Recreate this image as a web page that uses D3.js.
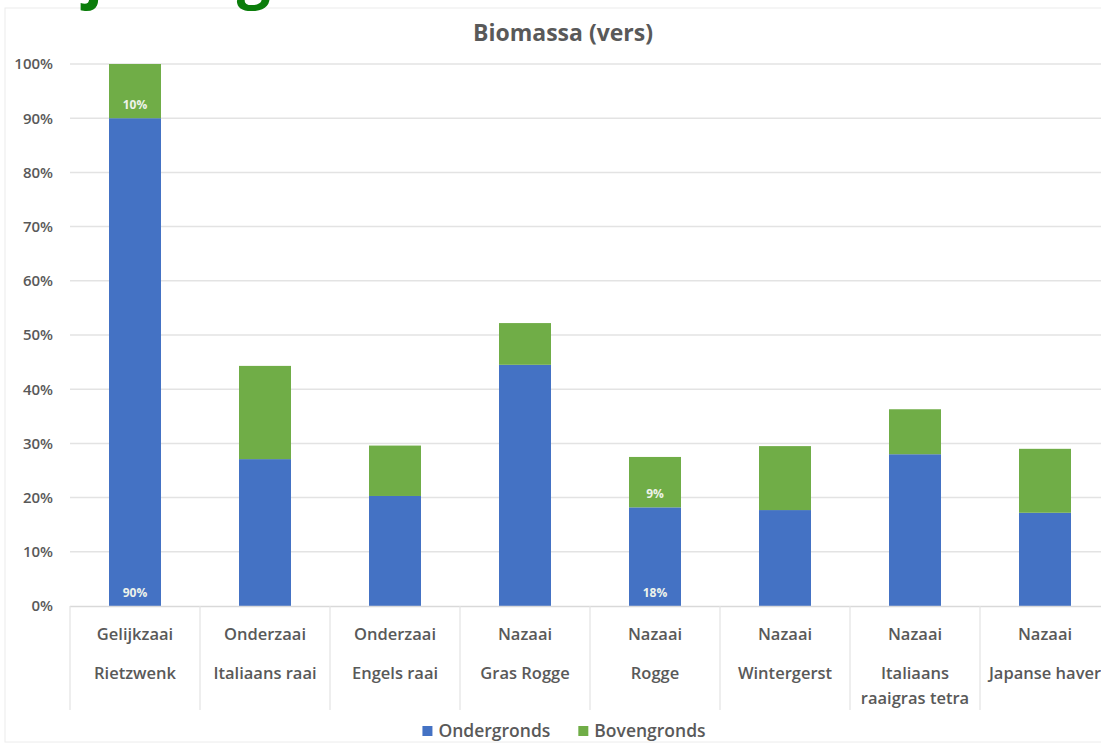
<!DOCTYPE html>
<html>
<head>
<meta charset="utf-8">
<script src="https://cdn.jsdelivr.net/npm/d3@7"></script>
<style>
  body { margin: 0; background: #fff; }
  text { font-family: "Open Sans", "DejaVu Sans", sans-serif; }
</style>
</head>
<body>
<div id="chart"></div>
<script>
const categories = [
  ['Gelijkzaai', 'Rietzwenk'],
  ['Onderzaai', 'Italiaans raai'],
  ['Onderzaai', 'Engels raai'],
  ['Nazaai', 'Gras Rogge'],
  ['Nazaai', 'Rogge'],
  ['Nazaai', 'Wintergerst'],
  ['Nazaai', 'Italiaans', 'raaigras tetra'],
  ['Nazaai', 'Japanse haver']
];
const seriesNames = ['Ondergronds', 'Bovengronds'];
const ondergronds = [90, 27.1, 20.3, 44.5, 18.2, 17.7, 28.0, 17.2];
const bovengronds = [10, 17.2, 9.3, 7.7, 9.3, 11.8, 8.3, 11.8];
const ondergrondsLabels = ['90%', '', '', '', '18%', '', '', ''];
const bovengrondsLabels = ['10%', '', '', '', '9%', '', '', ''];
const yTicks = [0, 10, 20, 30, 40, 50, 60, 70, 80, 90, 100];

const width = 1101;
const height = 746;
const colors = ['#4472c4', '#70ad47'];
const textGrey = '#595959';

const rows = categories.map((c, i) => ({
  i: i,
  Ondergronds: ondergronds[i],
  Bovengronds: bovengronds[i]
}));
const labels = [ondergrondsLabels, bovengrondsLabels];

const svg = d3.select('#chart')
              .append('svg')
              .attr('width', width)
              .attr('height', height);

// chart frame
svg.append('rect')
   .attr('x', 5).attr('y', 8)
   .attr('width', width + 10).attr('height', height - 12)
   .attr('fill', 'none')
   .attr('stroke', '#ececec');

// heading of the page, cut off by the top edge
svg.append('text')
   .text('Bijmengen')
   .attr('x', 26)
   .attr('y', -4)
   .attr('font-size', 60)
   .attr('font-weight', 'bold')
   .attr('fill', '#0b7d0b');

const xScale = d3.scaleBand()
                 .domain(categories.map((c, i) => i))
                 .range([70, 1110])
                 .padding(0);

const yScale = d3.scaleLinear()
                 .domain([0, 100])
                 .range([606, 64]);

const barWidth = xScale.bandwidth() * 0.4;

//gridlines
svg.append('g')
   .selectAll('line')
   .data(yTicks.filter(d => d > 0))
   .enter()
   .append('line')
   .attr('x1', 70)
   .attr('x2', width)
   .attr('y1', d => yScale(d))
   .attr('y2', d => yScale(d))
   .attr('stroke', '#e3e3e3')
   .attr('stroke-width', 1.5);

//y axis
const yAxis = d3.axisLeft(yScale)
                .tickValues(yTicks)
                .tickFormat(d => d + '%')
                .tickSize(0)
                .tickPadding(0);

svg.append('g')
   .attr('transform', 'translate(53, 0)')
   .call(yAxis)
   .call(g => g.select('.domain').remove())
   .call(g => g.selectAll('text')
               .attr('font-size', 15)
               .attr('font-weight', 600)
               .attr('fill', textGrey)
               .attr('font-family', '"Open Sans", sans-serif'));

//bars
const stacked = d3.stack().keys(seriesNames)(rows);

const layers = svg.selectAll('.layer')
                  .data(stacked)
                  .enter()
                  .append('g')
                  .attr('class', 'layer')
                  .attr('fill', (d, i) => colors[i]);

layers.selectAll('rect')
      .data(d => d)
      .enter()
      .append('rect')
      .attr('x', d => xScale(d.data.i) + (xScale.bandwidth() - barWidth) / 2)
      .attr('y', d => yScale(d[1]))
      .attr('width', barWidth)
      .attr('height', d => yScale(d[0]) - yScale(d[1]));

//data labels, inside base
layers.each(function(layer, li) {
  d3.select(this).selectAll('text')
    .data(layer.filter(d => labels[li][d.data.i] !== ''))
    .enter()
    .append('text')
    .text(d => labels[li][d.data.i])
    .attr('x', d => xScale(d.data.i) + xScale.bandwidth() / 2)
    .attr('y', d => yScale(d[0]) - 9)
    .attr('text-anchor', 'middle')
    .attr('font-size', 12)
    .attr('font-weight', 'bold')
    .attr('fill', '#eef3ea');
});

//x axis line and category dividers
svg.append('line')
   .attr('x1', 70).attr('x2', width)
   .attr('y1', 606.5).attr('y2', 606.5)
   .attr('stroke', '#d9d9d9')
   .attr('stroke-width', 1.5);

svg.append('g')
   .selectAll('line')
   .data(categories.map((c, i) => i))
   .enter()
   .append('line')
   .attr('x1', d => xScale(d))
   .attr('x2', d => xScale(d))
   .attr('y1', 606)
   .attr('y2', 710)
   .attr('stroke', '#e3e3e3')
   .attr('stroke-width', 1.2);

//category labels
const lineY = [634, 673, 698];
const catGroups = svg.append('g')
                     .selectAll('g')
                     .data(categories)
                     .enter()
                     .append('g')
                     .attr('transform', (d, i) => 'translate(' + (xScale(i) + xScale.bandwidth() / 2) + ', 0)');

catGroups.selectAll('text')
         .data(d => d)
         .enter()
         .append('text')
         .text(d => d)
         .attr('x', 0)
         .attr('y', (d, j) => lineY[j] + 6)
         .attr('text-anchor', 'middle')
         .attr('font-size', 16.5)
         .attr('font-weight', 600)
         .attr('fill', textGrey);

//title
svg.append('text')
   .text('Biomassa (vers)')
   .attr('x', 563)
   .attr('y', 41)
   .attr('text-anchor', 'middle')
   .attr('font-size', 23)
   .attr('font-weight', 'bold')
   .attr('fill', textGrey);

//legend, centred under the plot
const legend = svg.append('g');
const items = legend.selectAll('g')
                    .data(seriesNames)
                    .enter()
                    .append('g');

items.append('rect')
     .attr('x', 0).attr('y', -5)
     .attr('width', 10).attr('height', 10)
     .attr('fill', (d, i) => colors[i]);

items.append('text')
     .text(d => d)
     .attr('x', 16)
     .attr('y', 6)
     .attr('font-size', 17.5)
     .attr('font-weight', 600)
     .attr('fill', textGrey);

let offset = 0;
items.each(function() {
  d3.select(this).attr('transform', 'translate(' + offset + ', 0)');
  offset += this.getBBox().width + 28;
});
offset -= 28;
legend.attr('transform', 'translate(' + (564 - offset / 2) + ', 731)');
</script>
</body>
</html>
